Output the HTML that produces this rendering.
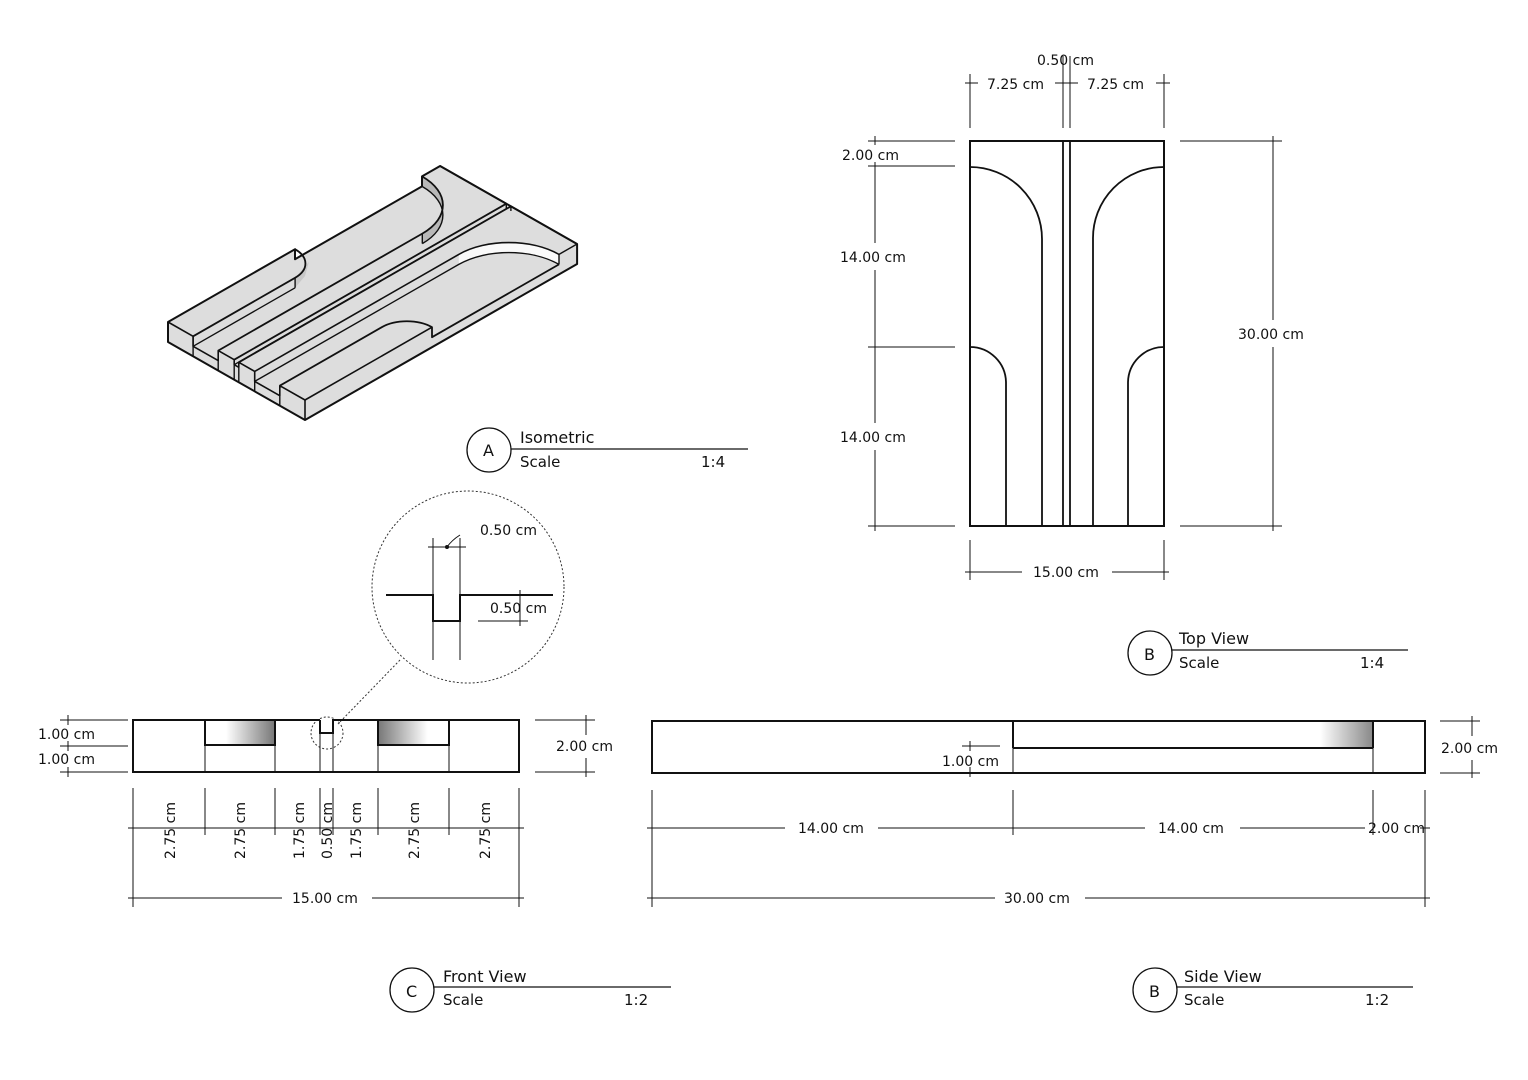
<!DOCTYPE html>
<html><head><meta charset="utf-8"><style>
html,body{margin:0;padding:0;background:#fff;}
svg{display:block;font-family:"DejaVu Sans","Liberation Sans",sans-serif;}
text{font-size:14px;fill:#111;}
.t{font-size:16px;}
</style></head><body>
<svg width="1528" height="1080" viewBox="0 0 1528 1080" xmlns="http://www.w3.org/2000/svg">
<defs>
<linearGradient id="gl" x1="0" x2="1"><stop offset="0.3" stop-color="#fff"/><stop offset="1" stop-color="#777"/></linearGradient>
<linearGradient id="gr" x1="0" x2="1"><stop offset="0" stop-color="#777"/><stop offset="0.7" stop-color="#fff"/></linearGradient>
<linearGradient id="gs" x1="0" x2="1"><stop offset="0" stop-color="#fff"/><stop offset="1" stop-color="#888"/></linearGradient>
</defs>

<!-- ISOMETRIC -->
<g stroke="#111" stroke-width="1.4" fill="none" stroke-linejoin="round">
<polygon fill="#dddddd" stroke="none" points="168,322 295,249.2 295,259.2 422,186.4 422,176.4 440.1,166 577.1,244 577.1,264 305,420 168,342"/>
<!-- concave left arc face -->
<path fill="#b8b8b8" d="M422.3,233.6 C449.8,217.8 449.8,192.2 422,176.4 L422,186.4 C449.8,202.2 449.8,227.8 422.3,243.6 Z" stroke="none"/>
<!-- right arc band -->
<path fill="#fafafa" d="M458.8,254.4 C486.3,238.6 531.2,238.6 559,254.4 L559,264.4 C531.2,248.6 486.3,248.6 458.8,264.4 Z" stroke="none"/>
<!-- left bar arc face -->
<path fill="#c8c8c8" stroke="none" d="M308.9,262 L295.1,277.8 L295.1,287.8 L305,276 Z"/>
<!-- silhouette -->
<polygon stroke-width="2" points="168,322 295,249.2 295,259.2 422,186.4 422,176.4 440.1,166 577.1,244 577.1,264 305,420 168,342"/>
<!-- front profile -->
<polyline stroke-width="1.6" points="168,322 193.1,336.3 193.1,346.3 218.2,360.6 218.2,350.6 234.2,359.7 234.2,364.7 238.8,367.3 238.8,362.3 254.7,371.4 254.7,381.4 279.8,395.7 279.8,385.7 305,400"/>
<line x1="193.1" y1="336.3" x2="193.1" y2="356.3"/>
<line x1="218.2" y1="350.6" x2="218.2" y2="370.6"/>
<line x1="234.2" y1="359.7" x2="234.2" y2="379.7"/>
<line x1="238.8" y1="362.3" x2="238.8" y2="382.3"/>
<line x1="254.7" y1="371.4" x2="254.7" y2="391.4"/>
<line x1="279.8" y1="385.7" x2="279.8" y2="405.7"/>
<line x1="305" y1="400" x2="305" y2="420" stroke-width="1.6"/>
<!-- left bar -->
<path d="M295,249.2 C308.9,257.1 308.9,269.9 295.1,277.8 L193.1,336.3" stroke-width="1.8"/>
<line x1="295.1" y1="277.8" x2="295.1" y2="287.8"/>
<line x1="193.1" y1="346.3" x2="295.1" y2="287.8"/>
<!-- bar w5.5 edge + concave arc -->
<path d="M218.2,350.6 L422.3,233.6 C449.8,217.8 449.8,192.2 422,176.4" stroke-width="1.8"/>
<path d="M422.3,243.6 C449.8,227.8 449.8,202.2 422,186.4"/>
<line x1="422.3" y1="233.6" x2="422.3" y2="243.6"/>
<!-- groove -->
<polyline stroke-width="1.8" points="234.2,359.7 506.3,203.7 440.1,166"/>
<line x1="234.2" y1="364.7" x2="506.3" y2="208.7"/>
<line x1="506.3" y1="203.7" x2="506.3" y2="208.7"/>
<polyline stroke-width="1.8" points="238.8,362.3 510.9,206.3 577.1,244"/>
<line x1="510.9" y1="206.3" x2="510.9" y2="211"/>
<!-- right inner bar + arc -->
<path d="M254.7,371.4 L458.8,254.4 C486.3,238.6 531.2,238.6 559,254.4" stroke-width="1.6"/>
<path d="M254.7,381.4 L458.8,264.4 C486.3,248.6 531.2,248.6 559,264.4"/>
<line x1="559" y1="254.4" x2="559" y2="264.4"/>
<line x1="559" y1="254.4" x2="577.1" y2="244"/>
<!-- right front bar -->
<path d="M279.8,385.7 L381.8,327.2 C395.6,319.3 418.1,319.3 432,327.2 L432,337.2 L559,264.4" stroke-width="1.8"/>
<line x1="305" y1="400" x2="432" y2="327.2" stroke-width="1.6"/>
</g>

<!-- Title A -->
<circle cx="489" cy="450" r="22" fill="none" stroke="#111" stroke-width="1.3"/>
<text x="483" y="456" class="t">A</text>
<line x1="511" y1="449" x2="748" y2="449" stroke="#111" stroke-width="1.3"/>
<text x="520" y="443" class="t">Isometric</text>
<text x="520" y="467" class="t" style="font-size:15px">Scale</text>
<text x="701" y="467" class="t" style="font-size:15px">1:4</text>

<!-- TOP VIEW -->
<g stroke="#111" fill="none">
<rect x="970" y="141" width="194" height="385" stroke-width="2"/>
<line x1="1063" y1="141" x2="1063" y2="526" stroke-width="1.8"/>
<line x1="1070" y1="141" x2="1070" y2="526" stroke-width="1.8"/>
<path d="M970,167 A72,72 0 0 1 1042,239 L1042,526" stroke-width="1.8"/>
<path d="M1164,167 A71,71 0 0 0 1093,239 L1093,526" stroke-width="1.8"/>
<path d="M970,347 A36,36 0 0 1 1006,383 L1006,526" stroke-width="1.8"/>
<path d="M1164,347 A36,36 0 0 0 1128,383 L1128,526" stroke-width="1.8"/>
<g stroke-width="1">
<line x1="970" y1="74" x2="970" y2="128"/><line x1="1063" y1="56" x2="1063" y2="128"/><line x1="1070" y1="56" x2="1070" y2="128"/><line x1="1164" y1="74" x2="1164" y2="128"/>
<line x1="965" y1="83" x2="978" y2="83"/><line x1="1055" y1="83" x2="1078" y2="83"/><line x1="1156" y1="83" x2="1170" y2="83"/>
<line x1="868" y1="141" x2="955" y2="141"/><line x1="868" y1="166" x2="955" y2="166"/><line x1="868" y1="347" x2="955" y2="347"/><line x1="868" y1="526" x2="955" y2="526"/>
<line x1="875" y1="136" x2="875" y2="145"/><line x1="875" y1="162" x2="875" y2="243"/><line x1="875" y1="270" x2="875" y2="423"/><line x1="875" y1="450" x2="875" y2="531"/>
<line x1="1180" y1="141" x2="1282" y2="141"/><line x1="1180" y1="526" x2="1282" y2="526"/>
<line x1="1273" y1="136" x2="1273" y2="320"/><line x1="1273" y1="347" x2="1273" y2="531"/>
<line x1="970" y1="540" x2="970" y2="580"/><line x1="1164" y1="540" x2="1164" y2="580"/>
<line x1="965" y1="572" x2="1022" y2="572"/><line x1="1112" y1="572" x2="1169" y2="572"/>
</g></g>
<text x="987" y="89">7.25 cm</text><text x="1087" y="89">7.25 cm</text><text x="1037" y="65">0.50 cm</text>
<text x="842" y="160">2.00 cm</text><text x="840" y="262">14.00 cm</text><text x="840" y="442">14.00 cm</text>
<text x="1238" y="339">30.00 cm</text><text x="1033" y="577">15.00 cm</text>

<circle cx="1150" cy="653" r="22" fill="none" stroke="#111" stroke-width="1.3"/>
<text x="1144" y="660" class="t">B</text>
<line x1="1172" y1="650" x2="1408" y2="650" stroke="#111" stroke-width="1.3"/>
<text x="1179" y="644" class="t">Top View</text>
<text x="1179" y="668" class="t" style="font-size:15px">Scale</text>
<text x="1360" y="668" class="t" style="font-size:15px">1:4</text>

<!-- DETAIL CIRCLE -->
<circle cx="468" cy="587" r="96" fill="none" stroke="#333" stroke-width="1" stroke-dasharray="2,2"/>
<line x1="400" y1="660" x2="338" y2="724" stroke="#333" stroke-width="1" stroke-dasharray="2,2"/>
<circle cx="327" cy="733" r="16" fill="none" stroke="#333" stroke-width="1" stroke-dasharray="2,2"/>
<g stroke="#111" fill="none">
<polyline points="386,595 433,595 433,621 460,621 460,595 553,595" stroke-width="2"/>
<line x1="433" y1="538" x2="433" y2="660" stroke-width="1"/><line x1="460" y1="538" x2="460" y2="660" stroke-width="1"/>
<line x1="428" y1="547" x2="466" y2="547" stroke-width="1"/>
<path d="M447,547 Q452,540 460,535" stroke-width="1"/>
<line x1="478" y1="595" x2="528" y2="595" stroke-width="1"/><line x1="478" y1="621" x2="528" y2="621" stroke-width="1"/>
<line x1="520" y1="590" x2="520" y2="626" stroke-width="1"/>
</g>
<circle cx="447" cy="547" r="2" fill="#111"/>
<text x="480" y="535">0.50 cm</text><text x="490" y="613">0.50 cm</text>

<!-- FRONT VIEW -->
<rect x="205" y="720" width="70" height="25" fill="url(#gl)"/>
<rect x="378" y="720" width="71" height="25" fill="url(#gr)"/>
<g stroke="#111" fill="none">
<polyline points="320,720 133,720 133,772 519,772 519,720 333,720 333,733 320,733 320,720" stroke-width="2"/>
<rect x="205" y="720" width="70" height="25" stroke-width="2"/>
<rect x="378" y="720" width="71" height="25" stroke-width="2"/>
<g stroke-width="1">
<line x1="205" y1="745" x2="205" y2="772"/><line x1="275" y1="745" x2="275" y2="772"/><line x1="320" y1="733" x2="320" y2="772"/><line x1="333" y1="733" x2="333" y2="772"/><line x1="378" y1="745" x2="378" y2="772"/><line x1="449" y1="745" x2="449" y2="772"/>
<line x1="133" y1="788" x2="133" y2="907"/><line x1="205" y1="788" x2="205" y2="835"/><line x1="275" y1="788" x2="275" y2="835"/><line x1="320" y1="788" x2="320" y2="835"/><line x1="333" y1="788" x2="333" y2="835"/><line x1="378" y1="788" x2="378" y2="835"/><line x1="449" y1="788" x2="449" y2="835"/><line x1="519" y1="788" x2="519" y2="907"/>
<line x1="128" y1="828" x2="524" y2="828"/>
<line x1="128" y1="898" x2="282" y2="898"/><line x1="372" y1="898" x2="524" y2="898"/>
<line x1="60" y1="720" x2="128" y2="720"/><line x1="60" y1="746" x2="128" y2="746"/><line x1="60" y1="772" x2="128" y2="772"/>
<line x1="68" y1="715" x2="68" y2="725"/><line x1="68" y1="741" x2="68" y2="751"/><line x1="68" y1="767" x2="68" y2="777"/>
<line x1="535" y1="720" x2="595" y2="720"/><line x1="535" y1="772" x2="595" y2="772"/>
<line x1="586" y1="715" x2="586" y2="735"/><line x1="586" y1="758" x2="586" y2="777"/>
</g></g>
<text x="38" y="739">1.00 cm</text><text x="38" y="764">1.00 cm</text><text x="556" y="751">2.00 cm</text>
<g>
<text transform="translate(175,859) rotate(-90)">2.75 cm</text>
<text transform="translate(245,859) rotate(-90)">2.75 cm</text>
<text transform="translate(304,859) rotate(-90)">1.75 cm</text>
<text transform="translate(332,859) rotate(-90)">0.50 cm</text>
<text transform="translate(361,859) rotate(-90)">1.75 cm</text>
<text transform="translate(419,859) rotate(-90)">2.75 cm</text>
<text transform="translate(490,859) rotate(-90)">2.75 cm</text>
</g>
<text x="292" y="903">15.00 cm</text>

<circle cx="412" cy="990" r="22" fill="none" stroke="#111" stroke-width="1.3"/>
<text x="406" y="997" class="t">C</text>
<line x1="434" y1="987" x2="671" y2="987" stroke="#111" stroke-width="1.3"/>
<text x="443" y="982" class="t">Front View</text>
<text x="443" y="1005" class="t" style="font-size:15px">Scale</text>
<text x="624" y="1005" class="t" style="font-size:15px">1:2</text>

<!-- SIDE VIEW -->
<rect x="1320" y="721" width="53" height="27" fill="url(#gs)"/>
<g stroke="#111" fill="none">
<rect x="652" y="721" width="773" height="52" stroke-width="2"/>
<line x1="1013" y1="748" x2="1373" y2="748" stroke-width="2"/>
<line x1="1013" y1="721" x2="1013" y2="748" stroke-width="2"/>
<line x1="1373" y1="721" x2="1373" y2="748" stroke-width="2"/>
<g stroke-width="1">
<line x1="1013" y1="748" x2="1013" y2="773"/><line x1="1373" y1="748" x2="1373" y2="773"/>
<line x1="652" y1="790" x2="652" y2="907"/><line x1="1013" y1="790" x2="1013" y2="835"/><line x1="1373" y1="790" x2="1373" y2="835"/><line x1="1425" y1="790" x2="1425" y2="907"/>
<line x1="647" y1="828" x2="785" y2="828"/><line x1="878" y1="828" x2="1145" y2="828"/><line x1="1240" y1="828" x2="1365" y2="828"/><line x1="1420" y1="828" x2="1430" y2="828"/>
<line x1="647" y1="898" x2="995" y2="898"/><line x1="1085" y1="898" x2="1430" y2="898"/>
<line x1="962" y1="746" x2="1000" y2="746"/><line x1="970" y1="741" x2="970" y2="751"/><line x1="970" y1="767" x2="970" y2="777"/>
<line x1="1440" y1="721" x2="1480" y2="721"/><line x1="1440" y1="773" x2="1480" y2="773"/>
<line x1="1472" y1="716" x2="1472" y2="736"/><line x1="1472" y1="760" x2="1472" y2="778"/>
</g></g>
<text x="942" y="766">1.00 cm</text><text x="1441" y="753">2.00 cm</text>
<text x="798" y="833">14.00 cm</text><text x="1158" y="833">14.00 cm</text><text x="1368" y="833">2.00 cm</text>
<text x="1004" y="903">30.00 cm</text>

<circle cx="1155" cy="990" r="22" fill="none" stroke="#111" stroke-width="1.3"/>
<text x="1149" y="997" class="t">B</text>
<line x1="1177" y1="987" x2="1413" y2="987" stroke="#111" stroke-width="1.3"/>
<text x="1184" y="982" class="t">Side View</text>
<text x="1184" y="1005" class="t" style="font-size:15px">Scale</text>
<text x="1365" y="1005" class="t" style="font-size:15px">1:2</text>
</svg>
</body></html>
